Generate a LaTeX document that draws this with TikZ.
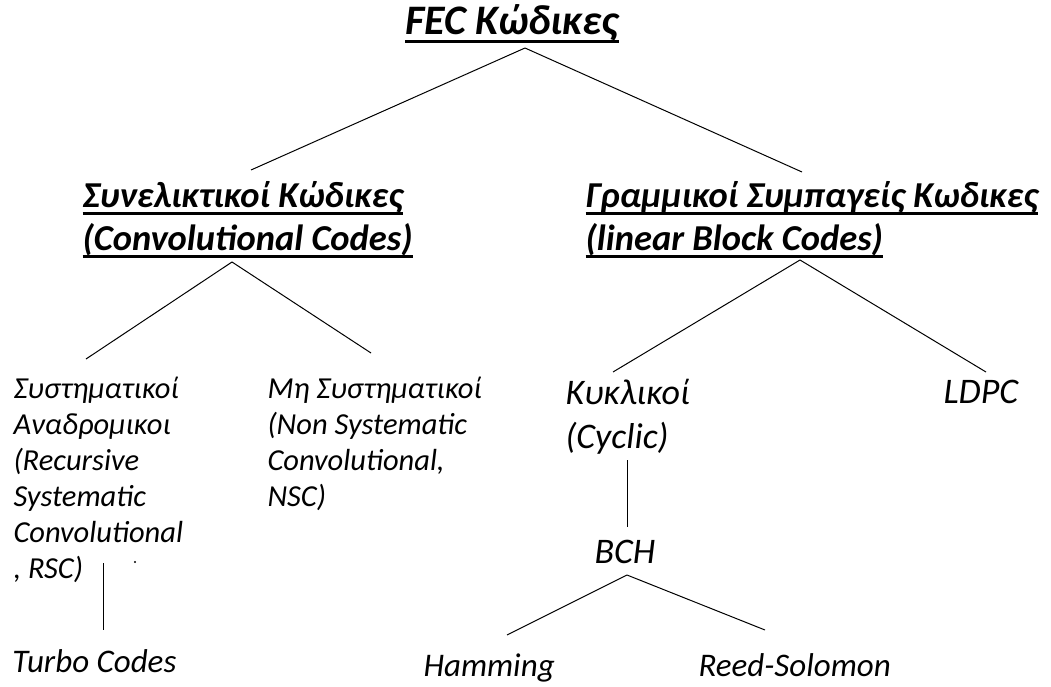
\documentclass[tikz,border=0pt]{standalone}
\usepackage{fontspec}
\setmainfont{Carlito}
\usepackage{tikz}
\newcommand{\ulbox}[1]{\setbox0\hbox{#1}\rlap{\rule[-8pt]{\wd0}{2.6pt}}\box0}

\begin{document}
\begin{tikzpicture}[x=1pt,y=-1pt,line width=1pt]
        \tikzstyle{titlenode}=[
            inner sep=0pt,
            anchor=base,
            font=\fontsize{42}{50}\selectfont\bfseries\itshape
        ]
        \tikzstyle{headnode}=[
            inner sep=0pt,
            anchor=base west,
            align=left,
            font=\fontsize{36.5}{43}\selectfont\bfseries\itshape
        ]
        \tikzstyle{midnode}=[
            inner sep=0pt,
            anchor=base west,
            align=left,
            font=\fontsize{36}{44}\selectfont\itshape
        ]
        \tikzstyle{leafnode}=[
            inner sep=0pt,
            anchor=base west,
            font=\fontsize{33}{40}\selectfont\itshape
        ]
        \tikzstyle{smallnode}=[
            inner sep=0pt,
            anchor=base west,
            align=left,
            font=\fontsize{30.5}{36}\selectfont\itshape
        ]

        \useasboundingbox (0,0) rectangle (1051,687);

        \node[titlenode] (fec) at (512,35){\ulbox{FEC Κώδικες}};
        \node[headnode] (conv) at (82,250){\ulbox{Συνελικτικοί Κώδικες}\\ \ulbox{(Convolutional Codes)}};
        \node[headnode] (block) at (585,250){\ulbox{Γραμμικοί Συμπαγείς Κωδικες}\\ \ulbox{(linear Block Codes)}};

        \node[smallnode] (rsc) at (13,578){Συστηματικοί\\ Αναδρομικοι\\ (Recursive\\ Systematic\\ Convolutional\\ , RSC)};
        \node[smallnode] (nsc) at (267,506){Μη Συστηματικοί\\ (Non Systematic\\ Convolutional,\\ NSC)};
        \node[midnode] (cyc) at (565,448){Κυκλικοί\\ (Cyclic)};
        \node[midnode] (ldpc) at (943,403){LDPC};
        \node[midnode, anchor=base] (bch) at (625,563){BCH};
        \node[leafnode] (turbo) at (12,672){Turbo Codes};
        \node[leafnode] (ham) at (423,676){Hamming};
        \node[leafnode] (rs) at (698,676){Reed-Solomon};
        \node[circle, fill, inner sep=0.8pt] (speck) at (135,562){};

        \draw ([shift={(13,13)}]fec.base) -- ([shift={(169,-80)}]conv.base west);
        \draw ([shift={(13,13)}]fec.base) -- ([shift={(217,-78)}]block.base west);
        \draw ([shift={(150,12)}]conv.base west) -- ([shift={(73,-219)}]rsc.base west);
        \draw ([shift={(150,12)}]conv.base west) -- ([shift={(104,-153)}]nsc.base west);
        \draw ([shift={(215,10)}]block.base west) -- ([shift={(48,-76)}]cyc.base west);
        \draw ([shift={(215,10)}]block.base west) -- ([shift={(43,-31)}]ldpc.base west);
        \draw ([shift={(62,12)}]cyc.base west) -- ([shift={(2,-36)}]bch.base);
        \draw ([shift={(2,12)}]bch.base) -- ([shift={(84,-41)}]ham.base west);
        \draw ([shift={(2,12)}]bch.base) -- ([shift={(67,-46)}]rs.base west);
        \draw ([shift={(90,-15)}]rsc.base west) -- ([shift={(91,-42)}]turbo.base west);

    \end{tikzpicture}
\end{document}
